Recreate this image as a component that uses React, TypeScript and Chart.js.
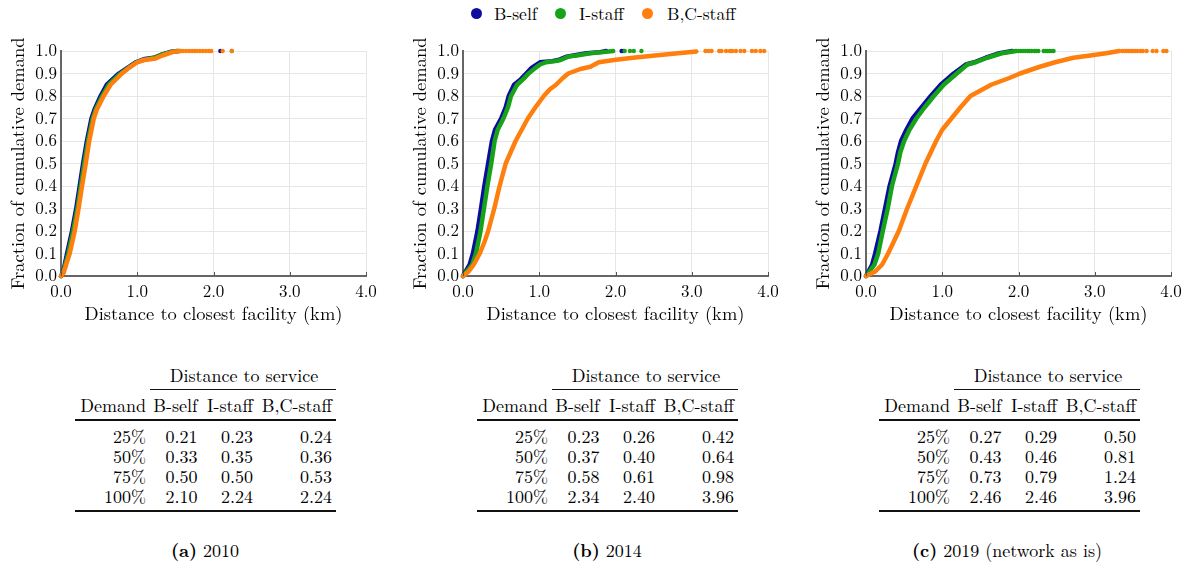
import React, { useEffect, useRef } from 'react';
import { Chart, registerables } from 'chart.js';

Chart.register(...registerables);

const FONT = '"Latin Modern Roman", "Liberation Serif", serif';
const BLUE = '#0c0c9e';
const GREEN = '#17a317';
const ORANGE = '#ff7f0e';
const TEXT = '#000';

const seriesNames = ['B-self', 'I-staff', 'B,C-staff'];
const captionLetters = ['(a)', '(b)', '(c)'];
const captionTexts = ['2010', '2014', '2019 (network as is)'];
const xTicks = [0, 1, 2, 3, 4];

// ---- 2010 ----
const bSelf2010X = [0, 0.03, 0.08, 0.145, 0.2, 0.245, 0.29, 0.34, 0.4, 0.44, 0.52, 0.6, 0.76, 0.98, 1.1, 1.22, 1.33, 1.45, 1.53];
const bSelf2010Y = [0, 0.02, 0.1, 0.2, 0.3, 0.4, 0.5, 0.6, 0.7, 0.74, 0.8, 0.85, 0.9, 0.95, 0.965, 0.97, 0.985, 0.997, 1.0];
const iStaff2010X = [0, 0.03, 0.095, 0.16, 0.215, 0.26, 0.305, 0.355, 0.415, 0.455, 0.54, 0.625, 0.78, 0.99, 1.07, 1.23, 1.33, 1.47, 1.55];
const iStaff2010Y = [0, 0.015, 0.1, 0.2, 0.3, 0.4, 0.5, 0.6, 0.7, 0.74, 0.8, 0.85, 0.9, 0.95, 0.96, 0.97, 0.985, 0.997, 1.0];
const bcStaff2010X = [0, 0.035, 0.114, 0.18, 0.23, 0.276, 0.325, 0.37, 0.43, 0.47, 0.56, 0.65, 0.8, 0.89, 1.0, 1.09, 1.24, 1.33, 1.48, 1.57];
const bcStaff2010Y = [0, 0.015, 0.1, 0.2, 0.3, 0.4, 0.5, 0.6, 0.7, 0.74, 0.8, 0.85, 0.9, 0.925, 0.95, 0.96, 0.967, 0.98, 0.997, 1.0];
const bSelf2010Tail = [2.09];
const iStaff2010Tail = [2.24];
const bcStaff2010Tail = [1.6, 1.64, 1.68, 1.72, 1.75, 1.78, 1.82, 1.86, 1.9, 1.94, 1.97, 2.12, 2.24];

// ---- 2014 ----
const bSelf2014X = [0, 0.087, 0.13, 0.19, 0.236, 0.28, 0.33, 0.38, 0.42, 0.5, 0.56, 0.6, 0.67, 0.76, 0.83, 0.9, 1.01, 1.17, 1.25, 1.36, 1.45, 1.62, 1.8, 1.88];
const bSelf2014Y = [0, 0.05, 0.1, 0.2, 0.3, 0.4, 0.5, 0.6, 0.65, 0.7, 0.75, 0.8, 0.85, 0.875, 0.9, 0.925, 0.95, 0.955, 0.96, 0.975, 0.98, 0.99, 0.995, 1.0];
const iStaff2014X = [0, 0.12, 0.17, 0.23, 0.275, 0.32, 0.37, 0.415, 0.455, 0.53, 0.59, 0.63, 0.71, 0.79, 0.86, 0.95, 1.01, 1.09, 1.21, 1.28, 1.38, 1.49, 1.67, 1.84, 1.97];
const iStaff2014Y = [0, 0.05, 0.1, 0.2, 0.3, 0.4, 0.5, 0.6, 0.65, 0.7, 0.75, 0.8, 0.85, 0.875, 0.9, 0.925, 0.94, 0.95, 0.955, 0.96, 0.975, 0.98, 0.99, 0.995, 1.0];
const bcStaff2014X = [0, 0.074, 0.14, 0.22, 0.28, 0.33, 0.41, 0.48, 0.56, 0.69, 0.85, 0.95, 1.06, 1.14, 1.22, 1.31, 1.38, 1.54, 1.67, 1.78, 1.98, 2.23, 2.52, 2.82, 3.06];
const bcStaff2014Y = [0, 0.02, 0.05, 0.1, 0.15, 0.2, 0.3, 0.4, 0.5, 0.6, 0.7, 0.75, 0.8, 0.83, 0.85, 0.88, 0.9, 0.92, 0.93, 0.95, 0.96, 0.97, 0.98, 0.99, 0.998];
const bSelf2014Tail = [2.08, 2.1];
const iStaff2014Tail = [2.12, 2.19, 2.24, 2.34];
const bcStaff2014Tail = [3.18, 3.22, 3.26, 3.36, 3.39, 3.45, 3.5, 3.53, 3.58, 3.64, 3.69, 3.79, 3.84, 3.9, 3.95];

// ---- 2019 ----
const bSelf2019X = [0, 0.08, 0.12, 0.19, 0.25, 0.31, 0.39, 0.42, 0.46, 0.53, 0.61, 0.73, 0.85, 0.98, 1.15, 1.31, 1.42, 1.57, 1.75, 1.92];
const bSelf2019Y = [0, 0.05, 0.1, 0.2, 0.3, 0.4, 0.5, 0.55, 0.6, 0.65, 0.7, 0.75, 0.8, 0.85, 0.9, 0.94, 0.95, 0.97, 0.99, 1.0];
const iStaff2019X = [0, 0.11, 0.16, 0.22, 0.285, 0.34, 0.42, 0.45, 0.5, 0.57, 0.66, 0.77, 0.89, 1.02, 1.19, 1.33, 1.44, 1.59, 1.78, 1.97];
const iStaff2019Y = [0, 0.05, 0.1, 0.2, 0.3, 0.4, 0.5, 0.55, 0.6, 0.65, 0.7, 0.75, 0.8, 0.85, 0.9, 0.94, 0.95, 0.97, 0.99, 1.0];
const bcStaff2019X = [0, 0.12, 0.21, 0.29, 0.36, 0.43, 0.54, 0.66, 0.78, 0.92, 1.0, 1.12, 1.24, 1.37, 1.64, 1.88, 2.02, 2.28, 2.48, 2.72, 2.94, 3.15, 3.32];
const bcStaff2019Y = [0, 0.02, 0.05, 0.1, 0.15, 0.2, 0.3, 0.4, 0.5, 0.6, 0.65, 0.7, 0.75, 0.8, 0.85, 0.88, 0.9, 0.93, 0.95, 0.97, 0.98, 0.99, 1.0];
const bSelf2019Tail: number[] = [];
const iStaff2019Tail = [2.0, 2.03, 2.06, 2.09, 2.12, 2.14, 2.17, 2.21, 2.23, 2.26, 2.33, 2.35, 2.38, 2.41, 2.44, 2.46];
const bcStaff2019Tail = [3.36, 3.39, 3.42, 3.45, 3.48, 3.5, 3.53, 3.56, 3.6, 3.63, 3.68, 3.76, 3.81, 3.9, 3.94];

// ---- tables ----
const demandLevels = ['25%', '50%', '75%', '100%'];
const table2010 = [['0.21', '0.23', '0.24'], ['0.33', '0.35', '0.36'], ['0.50', '0.50', '0.53'], ['2.10', '2.24', '2.24']];
const table2014 = [['0.23', '0.26', '0.42'], ['0.37', '0.40', '0.64'], ['0.58', '0.61', '0.98'], ['2.34', '2.40', '3.96']];
const table2019 = [['0.27', '0.29', '0.50'], ['0.43', '0.46', '0.81'], ['0.73', '0.79', '1.24'], ['2.46', '2.46', '3.96']];

type Series = { x: number[]; y: number[]; tail: number[]; color: string; order: number };

const panels: Series[][] = [
  [
    { x: bSelf2010X, y: bSelf2010Y, tail: bSelf2010Tail, color: BLUE, order: 2 },
    { x: iStaff2010X, y: iStaff2010Y, tail: iStaff2010Tail, color: GREEN, order: 1 },
    { x: bcStaff2010X, y: bcStaff2010Y, tail: bcStaff2010Tail, color: ORANGE, order: 0 },
  ],
  [
    { x: bSelf2014X, y: bSelf2014Y, tail: bSelf2014Tail, color: BLUE, order: 2 },
    { x: iStaff2014X, y: iStaff2014Y, tail: iStaff2014Tail, color: GREEN, order: 1 },
    { x: bcStaff2014X, y: bcStaff2014Y, tail: bcStaff2014Tail, color: ORANGE, order: 0 },
  ],
  [
    { x: bSelf2019X, y: bSelf2019Y, tail: bSelf2019Tail, color: BLUE, order: 2 },
    { x: iStaff2019X, y: iStaff2019Y, tail: iStaff2019Tail, color: GREEN, order: 1 },
    { x: bcStaff2019X, y: bcStaff2019Y, tail: bcStaff2019Tail, color: ORANGE, order: 0 },
  ],
];
const tables = [table2010, table2014, table2019];

const CANVAS_W = 402;
const CANVAS_H = 335;
const panelLefts = [0, 402, 805];
const tableOffsets = [0, 402, 804];
const captionCenters = [205, 607, 1007];

const innerTicks = {
  id: 'innerTicks',
  afterDraw(chart: any) {
    const { ctx, chartArea, scales } = chart;
    const xs = scales.x;
    ctx.save();
    ctx.strokeStyle = '#555';
    ctx.lineWidth = 1;
    xTicks.forEach((v) => {
      const px = Math.round(xs.getPixelForValue(v)) + 0.5;
      ctx.beginPath();
      ctx.moveTo(px, chartArea.bottom);
      ctx.lineTo(px, chartArea.bottom - 4);
      ctx.stroke();
    });
    ctx.restore();
  },
};

function CdfChart({ series, left }: { series: Series[]; left: number }) {
  const ref = useRef<HTMLCanvasElement>(null);
  useEffect(() => {
    if (!ref.current) return;
    const datasets: any[] = [];
    series.forEach((s) => {
      datasets.push({
        data: s.x.map((v, i) => ({ x: v, y: s.y[i] })),
        showLine: true,
        borderColor: s.color,
        backgroundColor: s.color,
        borderWidth: 4.5,
        borderJoinStyle: 'round',
        borderCapStyle: 'round',
        pointRadius: 0,
        tension: 0,
        order: s.order,
        clip: 8,
      });
      datasets.push({
        data: s.tail.map((v) => ({ x: v, y: 1 })),
        showLine: false,
        backgroundColor: s.color,
        borderColor: s.color,
        borderWidth: 0,
        pointRadius: 2.2,
        order: s.order,
        clip: 8,
      });
    });
    const chart = new Chart(ref.current, {
      type: 'scatter',
      data: { datasets },
      plugins: [innerTicks],
      options: {
        responsive: false,
        animation: false,
        devicePixelRatio: 1,
        layout: { padding: { top: 51, right: 36, bottom: CANVAS_H - 276 - 49, left: 0 } },
        plugins: { legend: { display: false }, tooltip: { enabled: false } },
        scales: {
          x: {
            type: 'linear',
            min: 0,
            max: 4,
            afterFit: (s: any) => {
              s.height = 49;
            },
            afterBuildTicks: (s: any) => {
              s.ticks = xTicks.map((v) => ({ value: v }));
            },
            ticks: {
              autoSkip: false,
              callback: (v: any) => Number(v).toFixed(1),
              font: { family: FONT, size: 17 },
              color: TEXT,
              padding: 6,
              maxRotation: 0,
            },
            grid: { color: '#e6e6e6', lineWidth: 1, drawTicks: false },
            border: { color: '#666', width: 2 },
            title: {
              display: true,
              text: 'Distance to closest facility (km)',
              font: { family: FONT, size: 18.5 },
              color: TEXT,
              padding: { top: 0, bottom: 0 },
            },
          },
          y: {
            type: 'linear',
            min: 0,
            max: 1,
            afterFit: (s: any) => {
              s.width = 61;
            },
            ticks: {
              autoSkip: false,
              stepSize: 0.1,
              callback: (v: any) => Number(v).toFixed(1),
              font: { family: FONT, size: 17 },
              color: TEXT,
              padding: 4,
            },
            grid: { color: '#e6e6e6', lineWidth: 1, drawTicks: false },
            border: { color: '#666', width: 2 },
            title: {
              display: true,
              text: 'Fraction of cumulative demand',
              font: { family: FONT, size: 18.5 },
              color: TEXT,
              padding: { top: 7, bottom: 0 },
            },
          },
        },
      } as any,
    });
    return () => chart.destroy();
  }, [series]);
  return (
    <canvas
      ref={ref}
      width={CANVAS_W}
      height={CANVAS_H}
      style={{ position: 'absolute', left, top: 0, width: CANVAS_W, height: CANVAS_H }}
    />
  );
}

const txt = (content: React.ReactNode, x: number, cy: number, align: 'left' | 'right' | 'center', size = 18, key?: string) => {
  const w = 300;
  const leftPos = align === 'left' ? x : align === 'right' ? x - w : x - w / 2;
  return (
    <div
      key={key}
      style={{
        position: 'absolute',
        left: leftPos,
        top: cy - 12,
        width: w,
        height: 24,
        lineHeight: '24px',
        textAlign: align,
        fontFamily: FONT,
        fontSize: size,
        color: TEXT,
        whiteSpace: 'nowrap',
      }}
    >
      {content}
    </div>
  );
};

const rule = (x1: number, x2: number, y: number, h: number, key: string) => (
  <div key={key} style={{ position: 'absolute', left: x1, top: y - h / 2, width: x2 - x1, height: h, background: '#111' }} />
);

function DataTable({ rows, ox }: { rows: string[][]; ox: number }) {
  const colRights = [146, 197.5, 253, 332];
  const els: React.ReactNode[] = [];
  els.push(txt('Distance to service', ox + 244, 375, 'center', 18, 'h0'));
  els.push(rule(ox + 150, ox + 336, 389, 1, 'r0'));
  els.push(txt('Demand', ox + colRights[0], 405, 'right', 18, 'hd'));
  seriesNames.forEach((n, i) => els.push(txt(n, ox + colRights[i + 1], 405, 'right', 18, 'hn' + i)));
  els.push(rule(ox + 75, ox + 336, 420, 2, 'r1'));
  demandLevels.forEach((d, r) => {
    const cy = 436 + r * 20;
    els.push(txt(d, ox + colRights[0], cy, 'right', 18, 'd' + r));
    rows[r].forEach((v, c) => els.push(txt(v, ox + colRights[c + 1], cy, 'right', 18, 'v' + r + c)));
  });
  els.push(rule(ox + 75, ox + 336, 511, 1.5, 'r2'));
  return <>{els}</>;
}

export default function App() {
  const legendItems = [
    { color: BLUE, dot: 476, text: 494 },
    { color: GREEN, dot: 560, text: 579 },
    { color: ORANGE, dot: 647, text: 667 },
  ];
  return (
    <div style={{ position: 'absolute', left: 0, top: 0, width: 1192, height: 569, background: '#fff', overflow: 'hidden' }}>
      {legendItems.map((it, i) => (
        <React.Fragment key={'lg' + i}>
          <div
            style={{
              position: 'absolute',
              left: it.dot - 5.5,
              top: 13 - 5.5,
              width: 11,
              height: 11,
              borderRadius: '50%',
              background: it.color,
            }}
          />
          {txt(seriesNames[i], it.text, 13, 'left', 17.5)}
        </React.Fragment>
      ))}
      {panels.map((p, i) => (
        <CdfChart key={'c' + i} series={p} left={panelLefts[i]} />
      ))}
      {tables.map((t, i) => (
        <DataTable key={'t' + i} rows={t} ox={tableOffsets[i]} />
      ))}
      {captionTexts.map((c, i) => (
        <React.Fragment key={'cap' + i}>
          {txt(
            <span>
              <b>{captionLetters[i]}</b> {c}
            </span>,
            captionCenters[i],
            550,
            'center',
            18
          )}
        </React.Fragment>
      ))}
    </div>
  );
}
